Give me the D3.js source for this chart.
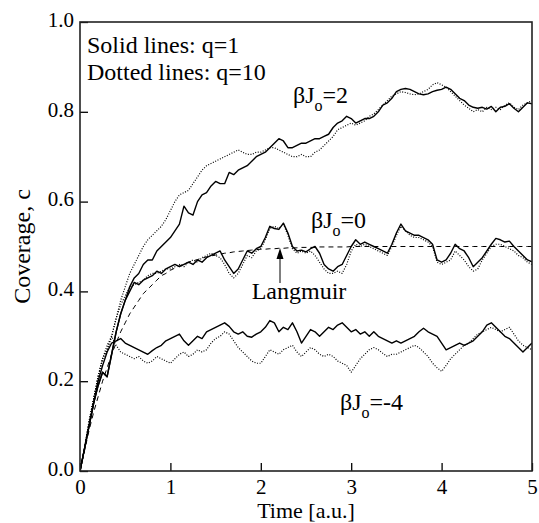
<!DOCTYPE html>
<html>
<head>
<meta charset="utf-8">
<script src="https://cdn.jsdelivr.net/npm/d3@7"></script>
<style>
  body { margin: 0; background: #fff; }
  svg text { font-family: "Liberation Serif", "Times New Roman", serif; }
</style>
</head>
<body>
<div id="chart"></div>
<script>
// time grid (a.u.)
const times = [0,0.05,0.1,0.15,0.2,0.25,0.3,0.35,0.4,0.45,0.5,0.55,0.6,0.65,0.7,0.75,0.8,0.85,0.9,0.95,
  1,1.05,1.1,1.15,1.2,1.25,1.3,1.35,1.4,1.45,1.5,1.55,1.6,1.65,1.7,1.75,1.8,1.85,1.9,1.95,
  2,2.05,2.1,2.15,2.2,2.25,2.3,2.35,2.4,2.45,2.5,2.55,2.6,2.65,2.7,2.75,2.8,2.85,2.9,2.95,
  3,3.05,3.1,3.15,3.2,3.25,3.3,3.35,3.4,3.45,3.5,3.55,3.6,3.65,3.7,3.75,3.8,3.85,3.9,3.95,
  4,4.05,4.1,4.15,4.2,4.25,4.3,4.35,4.4,4.45,4.5,4.55,4.6,4.65,4.7,4.75,4.8,4.85,4.9,4.95,5];

// betaJo = 2
const solidJ2 = [0,.05,.10,.15,.19,.22,.21,.26,.31,.35,.38,.41,.43,.44,.46,.47,.47,.49,.50,.51,
  .52,.535,.55,.59,.575,.57,.60,.615,.62,.635,.645,.64,.64,.665,.66,.67,.675,.68,.69,.70,
  .705,.71,.72,.73,.74,.735,.72,.72,.725,.73,.73,.735,.74,.74,.745,.75,.765,.775,.78,.79,
  .785,.775,.78,.785,.785,.79,.80,.815,.82,.83,.845,.85,.852,.85,.845,.84,.838,.84,.845,.848,
  .85,.855,.85,.84,.83,.825,.815,.81,.808,.81,.806,.812,.80,.81,.812,.818,.808,.80,.81,.82,.818];
const dottedJ2 = [0,.05,.11,.16,.21,.25,.27,.30,.34,.38,.41,.44,.46,.48,.50,.515,.525,.535,.545,.56,
  .58,.60,.615,.62,.625,.64,.655,.67,.68,.685,.69,.695,.70,.705,.71,.715,.71,.705,.705,.71,
  .71,.715,.72,.72,.715,.71,.705,.70,.70,.705,.70,.70,.71,.715,.725,.735,.745,.76,.765,.77,
  .775,.77,.775,.78,.79,.795,.805,.815,.825,.835,.84,.845,.843,.84,.838,.84,.845,.85,.86,.865,
  .86,.855,.845,.835,.825,.815,.808,.80,.805,.80,.81,.805,.81,.805,.815,.82,.81,.805,.815,.82,.825];

// betaJo = 0
const solidJ0 = [0,.05,.10,.15,.19,.22,.21,.26,.31,.35,.38,.40,.42,.415,.425,.43,.435,.445,.44,.45,
  .455,.46,.455,.46,.465,.46,.47,.465,.475,.48,.485,.49,.47,.455,.44,.45,.47,.49,.485,.495,
  .50,.52,.545,.54,.538,.552,.53,.50,.49,.492,.488,.495,.50,.485,.46,.45,.445,.455,.46,.48,
  .50,.515,.505,.51,.505,.50,.495,.49,.485,.505,.53,.55,.535,.53,.525,.525,.52,.515,.505,.47,
  .465,.47,.485,.505,.495,.49,.475,.455,.465,.475,.49,.505,.518,.515,.51,.512,.50,.49,.48,.47,.466];
const dottedJ0 = [0,.05,.11,.16,.21,.25,.27,.30,.34,.37,.39,.41,.415,.42,.425,.435,.44,.44,.445,.45,
  .45,.455,.46,.455,.465,.47,.465,.475,.48,.485,.48,.475,.46,.44,.43,.44,.46,.48,.475,.49,
  .495,.515,.54,.545,.54,.55,.525,.495,.485,.49,.485,.49,.48,.465,.45,.44,.44,.445,.44,.46,
  .49,.505,.50,.505,.50,.495,.49,.485,.48,.50,.525,.545,.535,.525,.52,.52,.515,.51,.50,.465,
  .46,.465,.47,.49,.48,.47,.455,.445,.45,.47,.485,.50,.505,.505,.50,.495,.49,.48,.475,.465,.46];

// betaJo = -4
const solidJm4 = [0,.05,.10,.15,.20,.235,.265,.285,.29,.295,.285,.28,.275,.27,.265,.26,.268,.275,.28,.29,
  .295,.30,.305,.29,.28,.29,.30,.295,.31,.315,.32,.325,.33,.322,.31,.305,.31,.30,.298,.305,
  .31,.32,.335,.33,.31,.32,.315,.33,.31,.285,.30,.315,.31,.30,.31,.32,.315,.325,.33,.32,
  .31,.315,.305,.31,.30,.31,.30,.295,.29,.285,.29,.285,.29,.295,.30,.31,.318,.31,.305,.30,
  .285,.27,.275,.28,.285,.28,.285,.29,.30,.31,.325,.33,.32,.31,.30,.295,.285,.275,.265,.275,.285];
const dottedJm4 = [0,.05,.11,.16,.21,.25,.28,.30,.28,.265,.26,.255,.25,.255,.245,.24,.245,.255,.25,.245,
  .24,.25,.26,.265,.255,.26,.27,.265,.27,.285,.295,.30,.31,.305,.29,.275,.265,.255,.245,.24,
  .24,.255,.27,.265,.26,.27,.275,.28,.265,.255,.265,.275,.27,.26,.255,.26,.255,.245,.24,.235,
  .22,.235,.25,.26,.27,.275,.27,.262,.255,.26,.26,.265,.27,.275,.28,.275,.265,.255,.24,.23,
  .222,.235,.25,.26,.27,.28,.285,.295,.305,.31,.315,.32,.315,.31,.315,.32,.305,.29,.28,.275,.27];

// Langmuir reference curve
const langmuir = [0,.045,.09,.13,.165,.20,.23,.26,.285,.31,.33,.35,.365,.38,.395,.405,.415,.425,.435,.44,
  .447,.452,.457,.461,.465,.468,.471,.474,.477,.479,.481,.483,.485,.486,.488,.489,.49,.491,.492,.493,
  .494,.494,.495,.495,.496,.496,.497,.497,.497,.498,.498,.498,.498,.499,.499,.499,.499,.499,.499,.499,
  .5,.5,.5,.5,.5,.5,.5,.5,.5,.5,.5,.5,.5,.5,.5,.5,.5,.5,.5,.5,
  .5,.5,.5,.5,.5,.5,.5,.5,.5,.5,.5,.5,.5,.5,.5,.5,.5,.5,.5,.5,.5];

const xTicks = [0, 1, 2, 3, 4, 5];
const yTicks = [0, 0.2, 0.4, 0.6, 0.8, 1.0];

const W = 539, H = 523;
const margin = { top: 22, right: 7, bottom: 52, left: 80 };
const iw = W - margin.left - margin.right;
const ih = H - margin.top - margin.bottom;

const svg = d3.select("#chart").append("svg")
  .attr("width", W)
  .attr("height", H)
  .attr("font-family", "Liberation Serif");

const g = svg.append("g")
  .attr("transform", `translate(${margin.left},${margin.top})`);

const x = d3.scaleLinear().domain([0, 5]).range([0, iw]);
const y = d3.scaleLinear().domain([0, 1]).range([ih, 0]);

g.append("clipPath").attr("id", "clip")
  .append("rect").attr("width", iw).attr("height", ih);

const line = d3.line()
  .x((d, i) => x(times[i]))
  .y(d => y(d));

const plot = g.append("g").attr("clip-path", "url(#clip)");

const series = [
  { values: langmuir, dash: "5,4", width: 1 },
  { values: dottedJ2, dash: "1,1.6", width: 1.2 },
  { values: dottedJ0, dash: "1,1.6", width: 1.2 },
  { values: dottedJm4, dash: "1,1.6", width: 1.2 },
  { values: solidJ2, dash: null, width: 1.4 },
  { values: solidJ0, dash: null, width: 1.4 },
  { values: solidJm4, dash: null, width: 1.4 }
];

plot.selectAll("path.series")
  .data(series)
  .join("path")
  .attr("class", "series")
  .attr("fill", "none")
  .attr("stroke", "#000")
  .attr("stroke-width", d => d.width)
  .attr("stroke-linejoin", "round")
  .attr("stroke-dasharray", d => d.dash)
  .attr("d", d => line(d.values));

// axes with inward ticks
const xAxis = g.append("g")
  .attr("transform", `translate(0,${ih})`)
  .call(d3.axisBottom(x).tickValues(xTicks).tickSize(-8).tickPadding(8).tickFormat(d3.format("d")));

const yAxis = g.append("g")
  .call(d3.axisLeft(y).tickValues(yTicks).tickSize(-8).tickPadding(6).tickFormat(d3.format(".1f")));

[xAxis, yAxis].forEach(a => {
  a.attr("font-family", "Liberation Serif");
  a.select(".domain").remove();
  a.selectAll("line").attr("stroke", "#000").attr("stroke-width", 1.3);
  a.selectAll("text")
    .style("font-size", "21px")
    .attr("fill", "#000");
});
yAxis.selectAll("text").attr("dy", "0.2em");

// frame
g.append("rect")
  .attr("width", iw)
  .attr("height", ih)
  .attr("fill", "none")
  .attr("stroke", "#222")
  .attr("stroke-width", 1.6);

// axis titles
svg.append("text")
  .attr("x", margin.left + iw / 2)
  .attr("y", 518)
  .attr("text-anchor", "middle")
  .style("font-size", "22px")
  .text("Time [a.u.]");

svg.append("text")
  .attr("transform", `translate(30,${margin.top + ih / 2}) rotate(-90)`)
  .attr("text-anchor", "middle")
  .style("font-size", "24px")
  .text("Coverage, c");

// legend notes
svg.append("text").attr("x", 87).attr("y", 53).style("font-size", "24px").text("Solid lines: q=1");
svg.append("text").attr("x", 87).attr("y", 80).style("font-size", "24px").text("Dotted lines: q=10");

// curve labels
function betaLabel(px, py, value) {
  const t = svg.append("text").attr("x", px).attr("y", py).style("font-size", "24px");
  t.append("tspan").text("βJ");
  t.append("tspan").attr("dy", 8).style("font-size", "16px").text("o");
  t.append("tspan").attr("dy", -8).text("=" + value);
}
betaLabel(293, 103, "2");
betaLabel(311, 228, "0");
betaLabel(340, 410, "-4");

svg.append("text").attr("x", 299).attr("y", 299)
  .attr("text-anchor", "middle")
  .style("font-size", "24px")
  .text("Langmuir");

// arrow pointing at the Langmuir curve
svg.append("line")
  .attr("x1", 280).attr("x2", 280)
  .attr("y1", 283).attr("y2", 256)
  .attr("stroke", "#000").attr("stroke-width", 1);
svg.append("path")
  .attr("d", "M280,248 L276.5,259 L283.5,259 Z")
  .attr("fill", "#000");
</script>
</body>
</html>
